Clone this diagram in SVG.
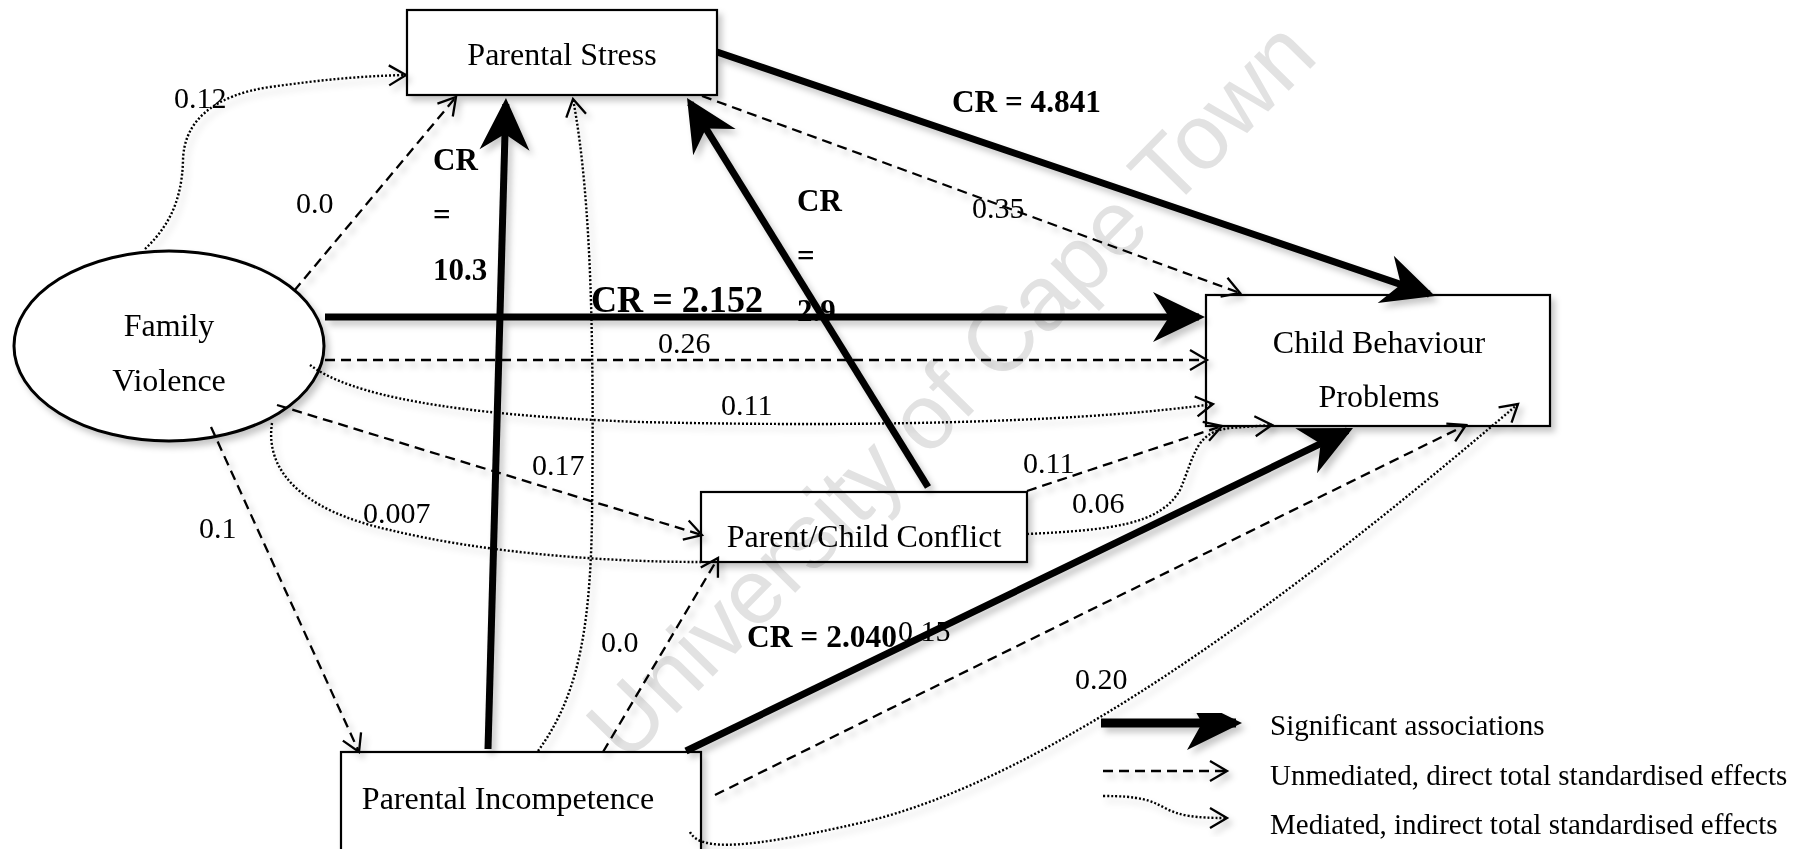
<svg xmlns="http://www.w3.org/2000/svg" width="1807" height="849" viewBox="0 0 1807 849">
<defs>
<style>
.box{fill:#fff;stroke:#000;stroke-width:2.2}
.oval{fill:#fff;stroke:#000;stroke-width:3}
.nt{font-family:"Liberation Serif","Times New Roman",serif;font-size:32px;fill:#000;text-anchor:middle}
.num{font-family:"Liberation Serif","Times New Roman",serif;font-size:30px;fill:#000}
.cr{font-family:"Liberation Serif","Times New Roman",serif;font-size:31px;font-weight:bold;fill:#000}
.leg{font-family:"Liberation Serif","Times New Roman",serif;font-size:29px;fill:#000}
.sig{fill:none;stroke:#000;stroke-width:7;marker-end:url(#big)}
.dir{fill:none;stroke:#000;stroke-width:2.3;stroke-dasharray:10 6;marker-end:url(#chev)}
.med{fill:none;stroke:#000;stroke-width:2.4;stroke-dasharray:2 2;marker-end:url(#chev)}
.wm{font-family:"Liberation Sans",Arial,sans-serif;font-size:92px;fill:#e2e2e2;mix-blend-mode:multiply}
</style>
<marker id="big" markerUnits="userSpaceOnUse" viewBox="-56 -28 64 56" refX="-6" refY="0" markerWidth="64" markerHeight="56" orient="auto">
<path d="M0,0 L-52,-25 L-36,0 L-52,25 Z" fill="#000"/>
</marker>
<marker id="bigleg" markerUnits="userSpaceOnUse" viewBox="-60 -30 68 60" refX="-6" refY="0" markerWidth="68" markerHeight="60" orient="auto">
<path d="M0,0 L-55,-27 L-40,0 L-55,27 Z" fill="#000"/>
</marker>
<marker id="chev" markerUnits="userSpaceOnUse" viewBox="-20 -13 24 26" refX="0" refY="0" markerWidth="24" markerHeight="26" orient="auto">
<path d="M-17,-10 L0,0 L-17,10" fill="none" stroke="#000" stroke-width="2.3"/>
</marker>
<filter id="sh" x="-10%" y="-10%" width="130%" height="130%">
<feDropShadow dx="4" dy="5" stdDeviation="3" flood-color="#000" flood-opacity="0.22"/>
</filter>
</defs>
<rect width="1807" height="849" fill="#fff"/>

<g id="node-parental-stress" filter="url(#sh)">
<rect class="box" x="407" y="10" width="310" height="85"/>
<text class="nt" x="562" y="65">Parental Stress</text>
</g>
<g id="node-family-violence" filter="url(#sh)">
<ellipse class="oval" cx="169" cy="346" rx="155" ry="95"/>
<text class="nt" x="169" y="336">Family</text>
<text class="nt" x="169" y="391">Violence</text>
</g>
<g id="node-child-behaviour" filter="url(#sh)">
<rect class="box" x="1206" y="295" width="344" height="131"/>
<text class="nt" x="1379" y="353">Child Behaviour</text>
<text class="nt" x="1379" y="407">Problems</text>
</g>
<g id="node-parent-child-conflict" filter="url(#sh)">
<rect class="box" x="701" y="492" width="326" height="70"/>
<text class="nt" x="864" y="547">Parent/Child Conflict</text>
</g>
<g id="node-parental-incompetence" filter="url(#sh)">
<rect class="box" x="341" y="752" width="360" height="110"/>
<text class="nt" x="508" y="809">Parental Incompetence</text>
</g>

<g id="connectors" filter="url(#sh)">
<!-- significant -->
<path class="sig" d="M325,317 L1199,317"/>
<path class="sig" d="M488,749 L505.8,104"/>
<path class="sig" d="M928,487 L690.2,103.1"/>
<path class="sig" d="M717,52 L1429.3,294.1"/>
<path class="sig" d="M686,751 L1347.6,430.6"/>
<!-- unmediated direct -->
<path class="dir" d="M294,291 L456,97"/>
<path class="dir" d="M702,96 L1240,293"/>
<path class="dir" d="M325,360 L1207,360"/>
<path class="dir" d="M277,405 L702,535"/>
<path class="dir" d="M211,427 L359,752"/>
<path class="dir" d="M603,752 L718,558"/>
<path class="dir" d="M1027,491 L1222,426"/>
<path class="dir" d="M715,795 L1466,425"/>
<!-- mediated indirect -->
<path class="med" d="M145,249 C165,230 182,205 183,160 C184,120 215,95 270,87 C320,80 360,76 406,75"/>
<path class="med" d="M538,751 C575,700 590,640 592,520 C594,350 592,200 573,99"/>
<path class="med" d="M310,365 C350,395 450,415 640,422 C900,428 1100,420 1213,404"/>
<path class="med" style="marker-end:none" d="M272,423 C265,470 300,510 390,530 C480,552 600,562 701,562"/>
<path class="med" d="M1027,534 C1110,530 1160,525 1180,490 C1195,455 1195,432 1230,428 L1272,425"/>
<path class="med" d="M690,832 C700,852 750,848 860,823 C1050,780 1300,590 1518,404"/>
</g>

<g id="labels">
<text class="cr" x="591" y="312" style="font-size:37px" textLength="172" lengthAdjust="spacingAndGlyphs">CR = 2.152</text>
<text class="cr" x="952" y="112" textLength="149" lengthAdjust="spacingAndGlyphs">CR = 4.841</text>
<text class="cr" x="747" y="647" textLength="150" lengthAdjust="spacingAndGlyphs">CR = 2.040</text>
<text class="cr" x="433" y="170">CR</text>
<text class="cr" x="433" y="225">=</text>
<text class="cr" x="433" y="280">10.3</text>
<text class="cr" x="797" y="211">CR</text>
<text class="cr" x="797" y="266">=</text>
<text class="cr" x="797" y="321">2.9</text>
<text class="num" x="174" y="108">0.12</text>
<text class="num" x="296" y="213">0.0</text>
<text class="num" x="972" y="218">0.35</text>
<text class="num" x="658" y="353">0.26</text>
<text class="num" x="721" y="415">0.11</text>
<text class="num" x="532" y="475">0.17</text>
<text class="num" x="363" y="523">0.007</text>
<text class="num" x="199" y="538">0.1</text>
<text class="num" x="1023" y="473">0.11</text>
<text class="num" x="1072" y="513">0.06</text>
<text class="num" x="601" y="652">0.0</text>
<text class="num" x="898" y="641">0.15</text>
<text class="num" x="1075" y="689">0.20</text>
</g>

<g id="legend">
<g filter="url(#sh)">
<path class="sig" style="stroke-width:9;marker-end:url(#bigleg)" d="M1101,723 L1236,723"/>
<path class="dir" d="M1103,771 L1227,771"/>
<path class="med" d="M1103,796 C1140,796 1150,800 1165,808 C1180,816 1195,818 1227,818"/>
</g>
<text class="leg" x="1270" y="735">Significant associations</text>
<text class="leg" x="1270" y="785">Unmediated, direct total standardised effects</text>
<text class="leg" x="1270" y="834">Mediated, indirect total standardised effects</text>
</g>

<text id="watermark" class="wm" x="626" y="765" transform="rotate(-45.5 626 765)">University of Cape Town</text>
</svg>
